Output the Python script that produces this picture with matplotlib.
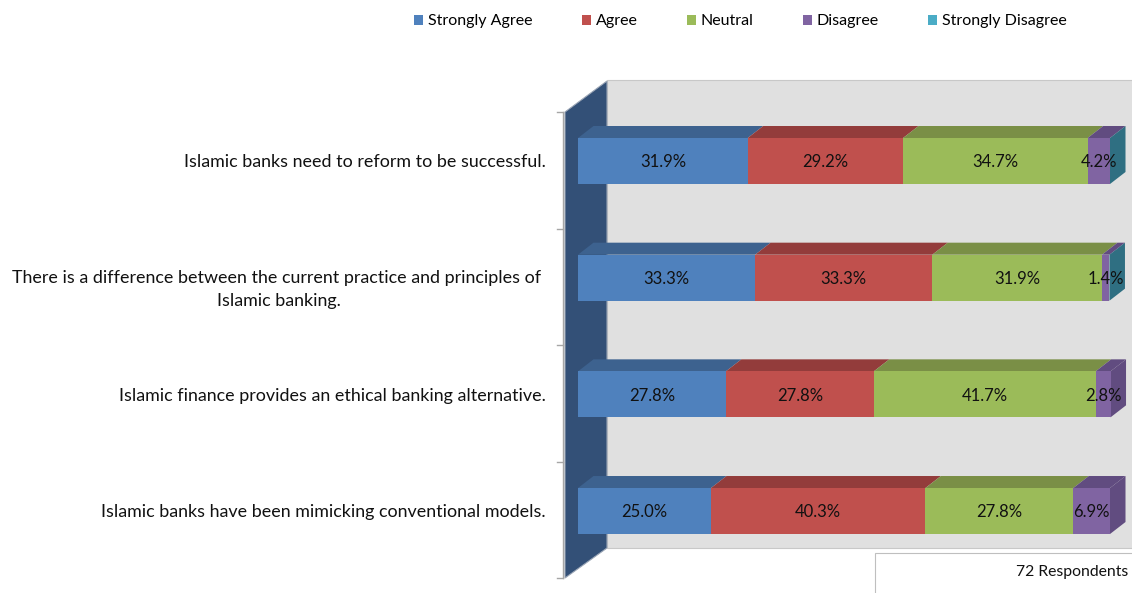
import matplotlib.pyplot as plt
from matplotlib.patches import Polygon, Patch, Rectangle
import numpy as np

plt.rcParams['font.family'] = ['Lato', 'DejaVu Sans']

# data
questions = [
    "Islamic banks need to reform to be successful.",
    "There is a difference between the current practice and principles of \nIslamic banking.",
    "Islamic finance provides an ethical banking alternative.",
    "Islamic banks have been mimicking conventional models.",
]
series = ["Strongly Agree", "Agree", "Neutral", "Disagree", "Strongly Disagree"]
strongly_agree = [31.9, 33.3, 27.8, 25.0]
agree = [29.2, 33.3, 27.8, 40.3]
neutral = [34.7, 31.9, 41.7, 27.8]
disagree = [4.2, 1.4, 2.8, 6.9]
strongly_disagree = [0.0, 0.0, 0.0, 0.0]
note = "72 Respondents"

front_cols = ["#4F81BD", "#C0504D", "#9BBB59", "#8064A2", "#4BACC6"]
top_cols = ["#3D628F", "#933C3B", "#7A8F46", "#614C80", "#2F6F82"]
end_face = [4, 4, 3, 3]  # which series colours the right end of each bar

W, H = 1132, 593
fig = plt.figure(figsize=(W / 100, H / 100), dpi=100)
ax = fig.add_axes([0, 0, 1, 1])

# axis scale: 0..100 % maps to px 578..1110, rows 116.7 px apart, first row at px 161
sx = 5.32
sy = 116.67
ax.set_xlim(-578 / sx, (W - 578) / sx)
ax.set_ylim((H - 161) / sy, -161 / sy)
ax.axis('off')

def px(x, y):
    return ((x - 578) / sx, (y - 161) / sy)

# walls
ax.add_patch(Polygon([px(607, 80), px(W + 5, 80), px(W + 5, 548), px(607, 548)],
                     closed=True, facecolor="#E0E0E0", edgecolor="#C8C8C8", lw=0.8, zorder=0))
ax.add_patch(Polygon([px(565, 112), px(607, 81), px(607, 548), px(565, 578)],
                     closed=True, facecolor="#335077", edgecolor="#9AA5B5", lw=0.8, zorder=1))
ax.plot(*zip(px(563, 112), px(563, 578)), color="#A6A6A6", lw=1, zorder=1)
for yp in [112, 229, 345, 462, 578]:
    ax.plot(*zip(px(557, yp), px(563, yp)), color="#A6A6A6", lw=1, zorder=1)

data = np.array([strongly_agree, agree, neutral, disagree, strongly_disagree])
y = np.arange(len(questions))
bar_h = 46 / sy
ddx = 15.5 / sx
ddy = -12 / sy

left = np.zeros(len(questions))
for j, name in enumerate(series):
    vals = data[j]
    ax.barh(y, vals, left=left, height=bar_h, color=front_cols[j], zorder=3)
    for i in range(len(questions)):
        if vals[i] <= 0:
            continue
        top = y[i] - bar_h / 2
        ax.add_patch(Polygon([(left[i], top), (left[i] + vals[i], top),
                              (left[i] + vals[i] + ddx, top + ddy), (left[i] + ddx, top + ddy)],
                             closed=True, facecolor=top_cols[j], edgecolor='none', zorder=2))
        ax.text(left[i] + vals[i] / 2, y[i] + 0.01, f"{vals[i]:.1f}%", ha='center', va='center',
                fontsize=12, color="#111111", zorder=5)
    left = left + vals

# right end faces
for i in range(len(questions)):
    end = left[i]
    top = y[i] - bar_h / 2
    bot = y[i] + bar_h / 2
    ax.add_patch(Polygon([(end, top), (end + ddx, top + ddy), (end + ddx, bot + ddy), (end, bot)],
                         closed=True, facecolor=top_cols[end_face[i]], edgecolor='none', zorder=2))

# category labels (two-line label starts at the row centre, like the original)
for i, q in enumerate(questions):
    shift = 0.1 if "\n" in q else 0.01
    ax.text(px(546, 0)[0], y[i] + shift, q, ha='right', va='center', multialignment='center',
            fontsize=12.9, color="#111111", linespacing=1.5)

# respondents box
ax.add_patch(Rectangle(px(875, 553), (W + 5 - 875) / sx, 45 / sy, facecolor='white',
                       edgecolor="#BFBFBF", lw=0.8, zorder=4))
ax.text(*px(1128, 572), note, ha='right', va='center', fontsize=11.3, color="#111111", zorder=5)

handles = [Patch(facecolor=c, edgecolor='none') for c in front_cols]
fig.legend(handles, series, loc='upper center', bbox_to_anchor=(0.654, 1.0), ncol=5,
           frameon=False, fontsize=11.5, handlelength=0.55, handleheight=0.55,
           handletextpad=0.3, columnspacing=3.1)

fig.savefig("out.png", dpi=100)
